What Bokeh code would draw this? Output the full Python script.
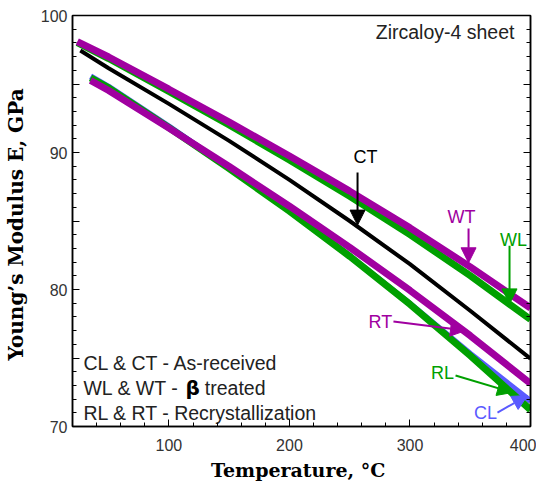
from bokeh.plotting import figure
from bokeh.models import (Range1d, LinearAxis, FixedTicker, Arrow, NormalHead,
                          ColumnDataSource, CustomLabelingPolicy)
from bokeh.core.properties import value
from bokeh.embed import file_html
from bokeh.resources import INLINE

# ---- data ----
T_W = [24, 50, 100, 150, 200, 250, 300, 350, 400]
E_WT = [98.10, 96.97, 94.62, 92.22, 89.74, 87.18, 84.50, 81.65, 78.65]
E_WL = [98.02, 96.86, 94.46, 92.01, 89.46, 86.81, 84.01, 81.01, 77.81]

T_CT = [26.5, 50, 100, 150, 200, 250, 300, 350, 400]
E_CT = [97.45, 96.15, 93.55, 90.85, 88.00, 85.00, 81.85, 78.45, 74.95]

T_R = [35, 50, 100, 150, 200, 250, 300, 350, 400]
E_RT = [95.26, 94.53, 91.78, 88.98, 86.08, 83.08, 79.93, 76.63, 73.13]
E_RL = [95.45, 94.72, 91.82, 88.82, 85.72, 82.42, 78.92, 75.17, 71.22]
E_CL = [95.55, 94.80, 91.90, 88.85, 85.75, 82.45, 78.95, 75.30, 71.85]

x_major = [100, 200, 300, 400]
x_minor = list(range(20, 401, 20))
y_major = [70, 75, 80, 85, 90, 95, 100]
y_minor = list(range(70, 101))

MAG = "#a000a0"
GRN = "#00a000"
BLU = "#5a5aff"

lab_text = ["CT", "WT", "WL", "RT", "RL", "CL"]
lab_x = [263.1, 342.8, 385.9, 275.5, 327.0, 362.7]
lab_y = [89.64, 85.26, 83.58, 77.66, 73.94, 70.95]
lab_color = ["black", MAG, GRN, MAG, GRN, BLU]

arr_x0 = [256.5, 348.6, 382.6, 286.3, 337.8, 372.6]
arr_y0 = [88.54, 84.45, 83.20, 77.66, 73.72, 71.02]
arr_x1 = [256.5, 348.6, 382.6, 346.1, 385.1, 397.5]
arr_y1 = [84.70, 81.95, 78.95, 77.00, 72.48, 72.26]

note_text = ["CL & CT - As-received", "WL & WT - ", "RL & RT - Recrystallization"]
note_x = [29.1, 29.1, 29.1]
note_y = [74.60, 72.78, 70.95]
beta_x, beta_y = [113.8], [72.78]
treated_x, treated_y = [129.8], [72.78]
title_x, title_y = [386.7], [98.76]

# ---- figure ----
p = figure(width=536, height=483, x_range=Range1d(20, 400), y_range=Range1d(70, 100),
           output_backend="svg", toolbar_location=None,
           min_border_left=72, min_border_right=6, min_border_top=15, min_border_bottom=57)
p.grid.visible = False
p.outline_line_color = "black"
p.outline_line_width = 1.5
p.background_fill_color = "white"
p.border_fill_color = "white"

p.xaxis.ticker = FixedTicker(ticks=x_major, minor_ticks=x_minor)
p.yaxis.ticker = FixedTicker(ticks=y_major, minor_ticks=y_minor)
p.yaxis.major_label_policy = CustomLabelingPolicy(code="""
    for (const i of indices) {
        if (i % 2 == 1) indices.unset(i)
    }
    return indices
""")

for ax in (p.xaxis[0], p.yaxis[0]):
    ax.major_tick_in = 7
    ax.major_tick_out = 0
    ax.minor_tick_in = 4
    ax.minor_tick_out = 0
    ax.axis_line_width = 1.5
    ax.major_label_text_font = "Liberation Sans"
    ax.major_label_text_font_size = "16px"
    ax.major_label_text_color = "#333333"
    ax.axis_label_text_font = "DejaVu Serif"
    ax.axis_label_text_font_style = "bold"
    ax.axis_label_text_color = "black"

p.xaxis.axis_label_text_font_size = "19px"
p.yaxis.axis_label_text_font_size = "20px"
p.xaxis.major_label_standoff = 12
p.xaxis.axis_label = "Temperature,  \u00b0C"
p.xaxis.axis_label_standoff = 5
p.yaxis.major_label_standoff = 5
p.yaxis.axis_label = "Young\u2019s Modulus E,  GPa"
p.yaxis.axis_label_standoff = 10

raxis = LinearAxis(ticker=FixedTicker(ticks=y_major, minor_ticks=y_minor),
                   major_tick_in=7, major_tick_out=0,
                   minor_tick_in=4, minor_tick_out=0, axis_line_width=1.5,
                   major_label_standoff=0, major_label_text_font_size="0px")
raxis.major_label_policy = CustomLabelingPolicy(code="""
    for (const i of indices) {
        indices.unset(i)
    }
    return indices
""")
p.add_layout(raxis, "right")

# ---- curves ----
p.line(T_R, E_CL, line_color=BLU, line_width=6)
p.line(T_R, E_RL, line_color=GRN, line_width=7)
p.line(T_R, E_RT, line_color=MAG, line_width=7)
p.line(T_W, E_WL, line_color=GRN, line_width=7)
p.line(T_W, E_WT, line_color=MAG, line_width=7)
p.line(T_CT, E_CT, line_color="black", line_width=4)

# ---- annotations ----
for x0, y0, x1, y1, c in zip(arr_x0, arr_y0, arr_x1, arr_y1, lab_color):
    p.add_layout(Arrow(end=NormalHead(size=15, fill_color=c, line_color=c),
                       x_start=x0, y_start=y0, x_end=x1, y_end=y1,
                       line_color=c, line_width=2))

src = ColumnDataSource(dict(x=lab_x, y=lab_y, t=lab_text, c=lab_color))
p.text("x", "y", text="t", text_color="c", source=src, text_align="center",
       text_baseline="middle", text_font=value("Liberation Sans"), text_font_size="18px")

p.text(note_x, note_y, text=note_text, text_align="left", text_baseline="middle",
       text_font=value("Liberation Sans"), text_font_size="19.5px", text_color="#222222")
p.text(beta_x, beta_y, text=["\u03b2"], text_align="left", text_baseline="middle",
       text_font=value("DejaVu Sans"), text_font_style="bold", text_font_size="20px",
       text_color="black")
p.text(treated_x, treated_y, text=["treated"], text_align="left", text_baseline="middle",
       text_font=value("Liberation Sans"), text_font_size="19.5px", text_color="#222222")
p.text(title_x, title_y, text=["Zircaloy-4 sheet"], text_align="right", text_baseline="middle",
       text_font=value("Liberation Sans"), text_font_size="19.5px", text_color="#222222")

open("out.html", "w").write(file_html(p, INLINE))
